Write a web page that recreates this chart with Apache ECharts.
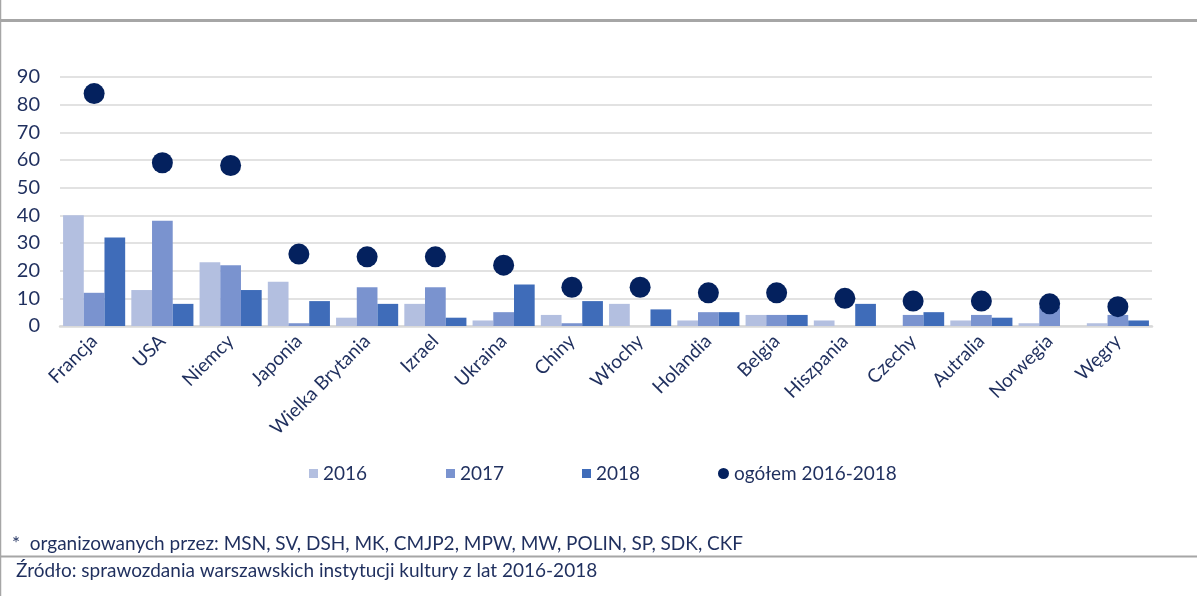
<!DOCTYPE html>
<html>
<head>
<meta charset="utf-8">
<script src="https://cdn.jsdelivr.net/npm/echarts@6/dist/echarts.min.js"></script>
<style>
  html, body { margin: 0; padding: 0; background: #fff; }
  #chart { width: 1197px; height: 596px; }
</style>
</head>
<body>
<div id="chart"></div>
<script>
const countries = ['Francja', 'USA', 'Niemcy', 'Japonia', 'Wielka Brytania', 'Izrael', 'Ukraina', 'Chiny',
  'Włochy', 'Holandia', 'Belgia', 'Hiszpania', 'Czechy', 'Autralia', 'Norwegia', 'Węgry']
const y2016 = [40, 13, 23, 16, 3, 8, 2, 4, 8, 2, 4, 2, 0, 2, 1, 1]
const y2017 = [12, 38, 22, 1, 14, 14, 5, 1, 0, 5, 4, 0, 4, 4, 7, 4]
const y2018 = [32, 8, 13, 9, 8, 3, 15, 9, 6, 5, 4, 8, 5, 3, 0, 2]
const total = [84, 59, 58, 26, 25, 25, 22, 14, 14, 12, 12, 10, 9, 9, 8, 7]
const seriesNames = ['2016', '2017', '2018', 'ogółem 2016-2018']
const yTicks = { min: 0, max: 90, interval: 10 }

const colors = ['#b3bfe0', '#7a93cf', '#3f6cb9', '#04215e']
const navy = '#1f2f5e'
const font = 'Lato, "Open Sans", sans-serif'

const chart = echarts.init(document.getElementById('chart'))

// one legend per item so each sits where the original put it
const legendLeft = [304, 441, 577, 713]
const legends = seriesNames.map((name, i) => ({
  data: [{ name, icon: i === 3 ? 'circle' : 'rect' }],
  left: legendLeft[i],
  top: 459,
  itemWidth: i === 3 ? 11 : 9,
  itemHeight: i === 3 ? 11 : 9,
  itemGap: 5,
  textStyle: { color: navy, fontSize: 19, fontFamily: font }
}))

const bar = (name, data, color) => ({
  name,
  type: 'bar',
  data,
  barGap: '0%',
  barCategoryGap: '9%',
  itemStyle: { color },
  emphasis: { disabled: true }
})

chart.setOption({
  animation: false,
  textStyle: { fontFamily: font },
  legend: legends,
  grid: { left: 60, right: 45, top: 77, bottom: 270 },
  xAxis: {
    type: 'category',
    data: countries,
    axisTick: { show: false },
    axisLine: { lineStyle: { color: '#d9d9d9', width: 2.5 } },
    axisLabel: { rotate: 45, interval: 0, margin: 12, color: navy, fontSize: 19, fontFamily: font }
  },
  yAxis: {
    type: 'value',
    min: yTicks.min,
    max: yTicks.max,
    interval: yTicks.interval,
    axisLabel: { color: navy, fontSize: 20, fontFamily: font, margin: 20 },
    splitLine: { lineStyle: { color: '#d9d9d9', width: 1.5 } }
  },
  series: [
    bar(seriesNames[0], y2016, colors[0]),
    bar(seriesNames[1], y2017, colors[1]),
    bar(seriesNames[2], y2018, colors[2]),
    {
      name: seriesNames[3],
      type: 'scatter',
      data: total,
      symbolSize: 21,
      itemStyle: { color: colors[3], opacity: 1 },
      z: 5
    }
  ],
  graphic: [
    { type: 'line', shape: { x1: 0, y1: 20.5, x2: 1197, y2: 20.5 }, style: { stroke: '#a6a6a6', lineWidth: 3 } },
    { type: 'line', shape: { x1: 0, y1: 556.5, x2: 1197, y2: 556.5 }, style: { stroke: '#a6a6a6', lineWidth: 2 } },
    { type: 'line', shape: { x1: 0.5, y1: 0, x2: 0.5, y2: 596 }, style: { stroke: '#a6a6a6', lineWidth: 1.5 } },
    {
      type: 'text', left: 12, top: 534,
      style: { text: '*  organizowanych przez: MSN, SV, DSH, MK, CMJP2, MPW, MW, POLIN, SP, SDK, CKF', fill: navy, font: '19px ' + font }
    },
    {
      type: 'text', left: 16, top: 561,
      style: { text: 'Źródło: sprawozdania warszawskich instytucji kultury z lat 2016-2018', fill: navy, font: '19px ' + font }
    }
  ]
})
</script>
</body>
</html>
